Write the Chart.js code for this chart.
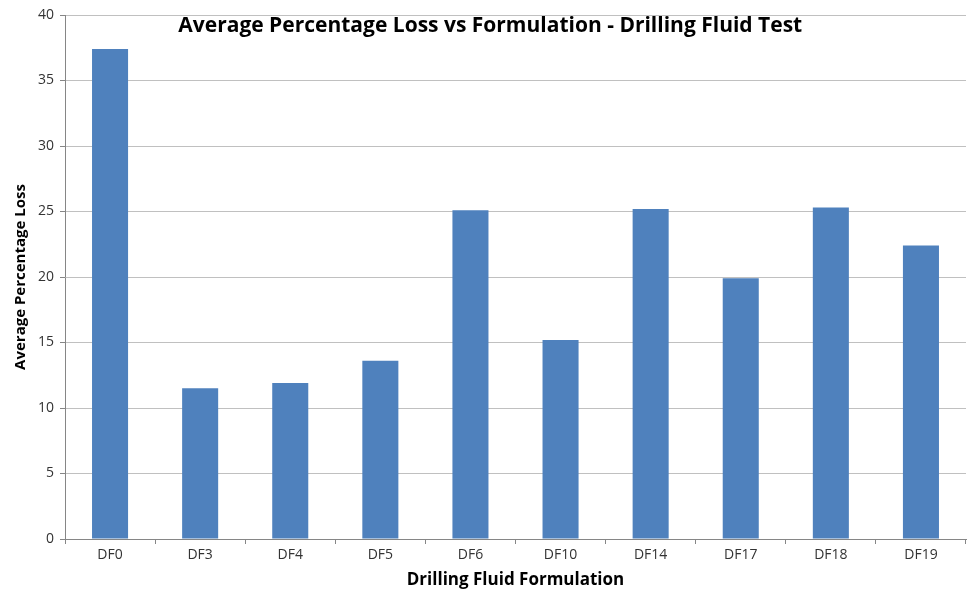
<!DOCTYPE html>
<html>
<head>
<meta charset="utf-8">
<script src="https://cdn.jsdelivr.net/npm/chart.js@4"></script>
<style>
  html, body { margin: 0; padding: 0; background: #fff; }
  #wrap { width: 969px; height: 594px; }
</style>
</head>
<body>
<div id="wrap"><canvas id="lossChart"></canvas></div>
<script>
const formulations = ["DF0", "DF3", "DF4", "DF5", "DF6", "DF10", "DF14", "DF17", "DF18", "DF19"];
const avgLoss = [37.4, 11.5, 11.9, 13.6, 25.1, 15.2, 25.2, 19.9, 25.3, 22.4];
const yTicks = [0, 5, 10, 15, 20, 25, 30, 35, 40];

const chartTitle = "Average Percentage Loss vs Formulation - Drilling Fluid Test";

// title sits inside the plot area, like the original spreadsheet chart
const insideTitle = {
  id: "insideTitle",
  afterDraw(chart) {
    const { ctx, chartArea } = chart;
    ctx.save();
    ctx.font = "bold 21px 'Open Sans', sans-serif";
    ctx.fillStyle = "#000";
    ctx.textAlign = "center";
    ctx.textBaseline = "middle";
    ctx.fillText(chartTitle, chartArea.left + (chartArea.right - chartArea.left) * 0.472, chartArea.top + 11);
    ctx.restore();
  },
};

function initChart() {
  const ctx = document.getElementById("lossChart");
  new Chart(ctx, {
    type: "bar",
    data: {
      labels: formulations,
      datasets: [
        {
          label: "Average Percentage Loss",
          data: avgLoss,
          backgroundColor: "#4f81bd",
          borderWidth: 0,
          categoryPercentage: 1,
          barPercentage: 0.4,
        },
      ],
    },
    options: {
      responsive: true,
      maintainAspectRatio: false,
      animation: false,
      layout: { padding: { top: 15, right: 3, left: 0, bottom: 0 } },
      plugins: {
        legend: { display: false },
        title: { display: false },
        tooltip: { enabled: false },
      },
      scales: {
        x: {
          grid: {
            offset: true,
            drawOnChartArea: false,
            drawTicks: true,
            tickLength: 5,
            color: "#868686",
          },
          border: { color: "#868686" },
          ticks: { color: "#333", font: { size: 14, family: "'Open Sans', sans-serif" }, padding: 3 },
          title: {
            display: true,
            text: "Drilling Fluid Formulation",
            color: "#000",
            font: { size: 17, weight: "bold", family: "'Open Sans', sans-serif" },
            padding: { top: 5 },
          },
          afterFit(scale) { scale.height = 55; },
        },
        y: {
          min: 0,
          max: 40,
          afterBuildTicks(scale) { scale.ticks = yTicks.map((v) => ({ value: v })); },
          grid: { color: "#c0c0c0", tickLength: 5, tickColor: "#868686" },
          border: { color: "#868686" },
          ticks: { color: "#333", font: { size: 14, family: "'Open Sans', sans-serif" }, padding: 6 },
          title: {
            display: true,
            text: "Average Percentage Loss",
            color: "#000",
            font: { size: 15, weight: "bold", family: "'Liberation Sans Narrow', 'Open Sans', sans-serif" },
            padding: { top: 12, bottom: 0 },
          },
          afterFit(scale) { scale.width = 65; },
        },
      },
    },
    plugins: [insideTitle],
  });
}

document.addEventListener("DOMContentLoaded", initChart);
</script>
</body>
</html>
